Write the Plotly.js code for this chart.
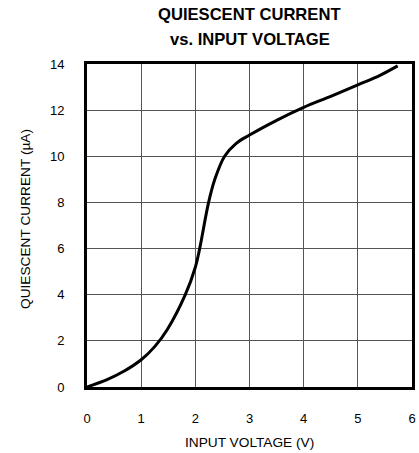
<!DOCTYPE html>
<html>
<head>
<meta charset="utf-8">
<script src="https://cdn.plot.ly/plotly-3.0.1.min.js"></script>
<style>html,body{margin:0;padding:0;background:#fff;}#chart{width:419px;height:453px;}</style>
</head>
<body>
<div id="chart"></div>
<script>
// Data
const voltage = [0, 0.37, 0.68, 1.0, 1.25, 1.48, 1.815, 2.0, 2.08, 2.245, 2.36, 2.54, 2.75, 3.0, 3.51, 4.0, 4.5, 5.0, 5.4, 5.735];
const current = [0, 0.32, 0.68, 1.18, 1.75, 2.48, 4.0, 5.19, 6.0, 8.0, 9.0, 10.0, 10.55, 10.92, 11.57, 12.12, 12.6, 13.1, 13.5, 13.92];
const xTicks = [0, 1, 2, 3, 4, 5, 6];
const yTicks = [0, 2, 4, 6, 8, 10, 12, 14];
const titleLines = ["QUIESCENT CURRENT", "vs. INPUT VOLTAGE"];
const xTitle = "INPUT VOLTAGE (V)";
const yTitle = "QUIESCENT CURRENT (\u00B5A)";

const font = "Liberation Sans, Arial, Helvetica, sans-serif";

const trace = {
  x: voltage, y: current, type: "scatter", mode: "lines",
  line: {color: "#000", width: 3, shape: "spline", smoothing: 1},
  hoverinfo: "skip"
};

const axisCommon = {
  showgrid: true, gridcolor: "#555", gridwidth: 1,
  showline: true, linecolor: "#000", linewidth: 3, mirror: "all",
  zeroline: false, ticks: "", ticklabelstandoff: 17,
  tickfont: {family: font, size: 13, color: "#000"},
  fixedrange: true
};

const layout = {
  width: 419, height: 453,
  margin: {l: 87, r: 7, t: 64, b: 66},
  paper_bgcolor: "#fff", plot_bgcolor: "#fff",
  showlegend: false,
  xaxis: Object.assign({}, axisCommon, {range: [0, 6], tickvals: xTicks, ticktext: xTicks.map(String)}),
  yaxis: Object.assign({}, axisCommon, {range: [0, 14], tickvals: yTicks, ticktext: yTicks.map(String)}),
  annotations: [
    {text: titleLines[0], xref: "paper", yref: "paper", x: 0.5, y: (387 - 14) / 323, xanchor: "center", yanchor: "middle", showarrow: false,
     font: {family: font, size: 16.6, color: "#000", weight: "bold"}},
    {text: titleLines[1], xref: "paper", yref: "paper", x: 0.5, y: (387 - 39) / 323, xanchor: "center", yanchor: "middle", showarrow: false,
     font: {family: font, size: 16.6, color: "#000", weight: "bold"}},
    {text: xTitle, xref: "paper", yref: "paper", x: 0.5, y: (387 - 442) / 323, xanchor: "center", yanchor: "middle", showarrow: false,
     font: {family: font, size: 13.7, color: "#000"}},
    {text: yTitle, xref: "paper", yref: "paper", x: (25 - 87) / 325, y: (387 - 219) / 323, xanchor: "center", yanchor: "middle", showarrow: false, textangle: -90,
     font: {family: font, size: 13.7, color: "#000"}}
  ]
};

Plotly.newPlot("chart", [trace], layout, {displayModeBar: false, staticPlot: true});
</script>
</body>
</html>
